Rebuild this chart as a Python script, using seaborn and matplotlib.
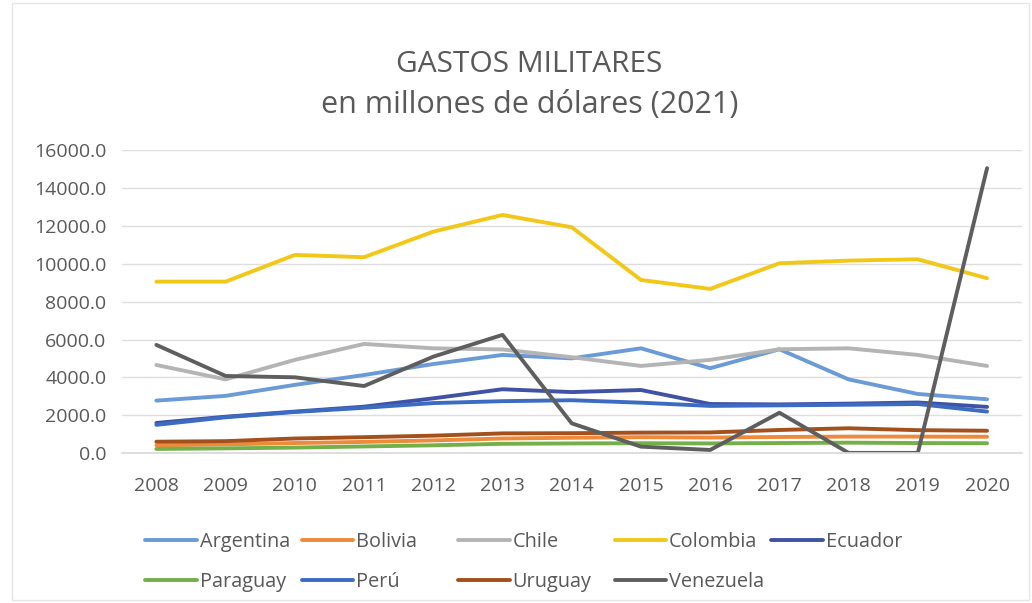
import matplotlib
matplotlib.use("Agg")
import matplotlib.pyplot as plt
import seaborn as sns
import pandas as pd

years = list(range(2008, 2021))

argentina = [2780, 3030, 3610, 4130, 4710, 5190, 5010, 5540, 4490, 5490, 3900, 3130, 2850]
bolivia = [420, 470, 540, 600, 680, 780, 820, 850, 830, 860, 880, 880, 870]
chile = [4660, 3900, 4930, 5770, 5540, 5480, 5070, 4610, 4930, 5490, 5540, 5190, 4610]
colombia = [9060, 9060, 10470, 10350, 11700, 12580, 11930, 9150, 8675, 10030, 10170, 10240, 9240]
ecuador = [1600, 1930, 2200, 2460, 2900, 3380, 3230, 3340, 2600, 2580, 2620, 2680, 2450]
paraguay = [230, 260, 300, 360, 420, 500, 520, 530, 520, 540, 560, 540, 530]
peru = [1500, 1900, 2180, 2400, 2650, 2750, 2800, 2670, 2500, 2530, 2560, 2600, 2200]
uruguay = [610, 640, 780, 850, 930, 1050, 1060, 1090, 1100, 1230, 1320, 1220, 1190]
venezuela = [5720, 4080, 4010, 3550, 5100, 6250, 1580, 350, 175, 2140, 20, 20, 15050]

countries = ["Argentina", "Bolivia", "Chile", "Colombia", "Ecuador",
             "Paraguay", "Perú", "Uruguay", "Venezuela"]
series = [argentina, bolivia, chile, colombia, ecuador,
          paraguay, peru, uruguay, venezuela]
colors = ["#6A9BD6", "#ED8A3C", "#B4B4B4", "#F2C818", "#4052A6",
          "#74B04A", "#3C6CC2", "#A4501C", "#5E5E5E"]

df = pd.DataFrame(
    [(c, y, v) for c, vals in zip(countries, series) for y, v in zip(years, vals)],
    columns=["país", "año", "gasto"],
)

sns.set_theme(style="white")
plt.rcParams["font.family"] = ["Open Sans", "DejaVu Sans"]

text_gray = "#595959"
W, H = 1032, 603
fig = plt.figure(figsize=(W / 100, H / 100), dpi=100)
ax = fig.add_axes([0.118, 0.2483, 0.872, 0.5027])

sns.lineplot(data=df, x="año", y="gasto", hue="país", hue_order=countries,
             palette=dict(zip(countries, colors)), linewidth=2.8, ax=ax,
             legend=False)

ax.set_xlim(2007.5, 2020.5)
ax.set_ylim(0, 16000)
ax.set_yticks(range(0, 16001, 2000))
ax.set_yticklabels([f"{v:.1f}" for v in range(0, 16001, 2000)])
ax.set_xticks(years)
ax.set_xticklabels([str(y) for y in years])
ax.yaxis.grid(True, color="#DEDEDE", linewidth=1.0)
ax.set_axisbelow(True)
for s in ["top", "right", "left"]:
    ax.spines[s].set_visible(False)
ax.spines["bottom"].set_color("#D9D9D9")
ax.tick_params(axis="both", length=0, colors=text_gray, labelsize=14)
ax.tick_params(axis="y", pad=11)
ax.tick_params(axis="x", pad=17)
ax.set_xlabel("")
ax.set_ylabel("")

fig.text(0.513, 0.893, "GASTOS MILITARES", ha="center", va="center",
         fontsize=21.5, color=text_gray)
fig.text(0.513, 0.826, "en millones de dólares (2021)", ha="center", va="center",
         fontsize=22, color=text_gray)

# legend laid out on an even grid: five columns, two rows
col_x0, col_w = 145, 156.5
row_y = [542, 582]
for i, (name, col) in enumerate(zip(countries, colors)):
    r, c = divmod(i, 5)
    handle = plt.Line2D([], [], color=col, linewidth=2.8)
    lg = fig.legend([handle], [name], loc="center left",
                    bbox_to_anchor=((col_x0 + c * col_w) / W, 1 - row_y[r] / H),
                    frameon=False, fontsize=14.3, handlelength=2.6,
                    handletextpad=0.15, labelcolor=text_gray,
                    borderaxespad=0, borderpad=0)

fig.patches.append(plt.Rectangle((0.012, 0.005), 0.985, 0.99, transform=fig.transFigure,
                                 fill=False, edgecolor="#E6E6E6", linewidth=1.0))

fig.savefig("out.png", dpi=100, facecolor="white")
